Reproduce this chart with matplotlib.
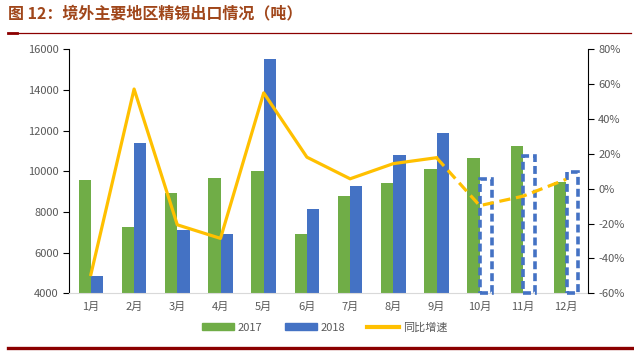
import numpy as np
import matplotlib.pyplot as plt
from matplotlib.lines import Line2D

plt.rcParams['font.family'] = ['Noto Sans CJK SC', 'DejaVu Sans']

months = ['1月', '2月', '3月', '4月', '5月', '6月', '7月', '8月', '9月', '10月', '11月', '12月']
exp_2017 = [9550, 7250, 8950, 9680, 10000, 6900, 8800, 9440, 10100, 10650, 11220, 9470]
exp_2018 = [4850, 11400, 7100, 6920, 15500, 8150, 9300, 10800, 11900, 9620, 10740, 9980]
yoy = [-49.2, 57.2, -20.7, -28.5, 55.0, 18.1, 5.7, 14.4, 17.8, -9.7, -4.3, 5.4]
n_actual = 9  # months with actual 2018 data; rest are estimates

green = '#70AD47'
blue = '#4472C4'
yellow = '#FFC000'
txt = '#595959'
ymin = 4000

fig = plt.figure(figsize=(6.34, 3.59), dpi=100)
ax = fig.add_axes([0.1093, 0.183, 0.8177, 0.6797])
ax2 = ax.twinx()

x = np.arange(len(months))
w = 0.285
ax.bar(x - w / 2, exp_2017, w, color=green, zorder=2)
ax.bar(x[:n_actual] + w / 2, exp_2018[:n_actual], w, color=blue, zorder=2)
# estimated months: dashed outline bars
est = np.array(exp_2018[n_actual:]) - ymin
ax.bar(x[n_actual:] + w / 2, est, w * 0.92, bottom=ymin, facecolor='white',
       edgecolor=blue, linewidth=2.6, linestyle=(0, (2.2, 1.1)), zorder=3, clip_on=False)

ax.set_ylim(ymin, 16000)
ax.set_yticks(range(ymin, 16001, 2000))
ax.set_xlim(-0.5, 11.5)
ax.set_xticks(x)
ax.set_xticklabels(months)

ax2.plot(x[:n_actual], yoy[:n_actual], color=yellow, lw=2.3, zorder=4)
ax2.plot(x[n_actual - 1:], yoy[n_actual - 1:], color=yellow, lw=2.3,
         linestyle=(0, (3.5, 1.8)), zorder=4)
ax2.set_ylim(-60, 80)
ax2.set_yticks(range(-60, 81, 20))
ax2.set_yticklabels([f'{v}%' for v in range(-60, 81, 20)])
ax2.patch.set_visible(False)

for a in (ax, ax2):
    a.spines['top'].set_visible(False)
    a.tick_params(labelsize=8, colors=txt, length=4, width=0.8)
ax.spines['right'].set_visible(False)
ax2.spines['left'].set_visible(False)
ax.spines['left'].set_color('black')
ax2.spines['right'].set_color('black')
ax.spines['bottom'].set_color('#D9D9D9')
ax2.spines['bottom'].set_visible(False)
ax.tick_params(axis='x', length=0, pad=6)
ax.tick_params(axis='y', color='black')
ax2.tick_params(axis='y', color='black')

handles = [plt.Rectangle((0, 0), 1, 1, color=green),
           plt.Rectangle((0, 0), 1, 1, color=blue),
           Line2D([0], [0], color=yellow, lw=3)]
leg = fig.legend(handles, ['2017', '2018', '同比增速'], loc='center',
                 bbox_to_anchor=(0.512, 0.088), ncol=3, frameon=False, fontsize=8,
                 handlelength=2.9, handleheight=0.6, columnspacing=2.0, handletextpad=0.3)
for t in leg.get_texts():
    t.set_color(txt)

fig.text(0.013, 0.962, '图 12：境外主要地区精锡出口情况（吨）', fontsize=11.5,
         fontweight='bold', color='#A0461A', va='center', ha='left')
fig.add_artist(Line2D([0.013, 0.995], [0.909, 0.909], color='#8B0000', lw=0.9))
fig.add_artist(Line2D([0.013, 0.027], [0.907, 0.907], color='#8B0000', lw=2))
fig.add_artist(Line2D([0.013, 1.0], [0.031, 0.031], color='#8B0000', lw=2.4))

fig.savefig('out.png', dpi=100)
